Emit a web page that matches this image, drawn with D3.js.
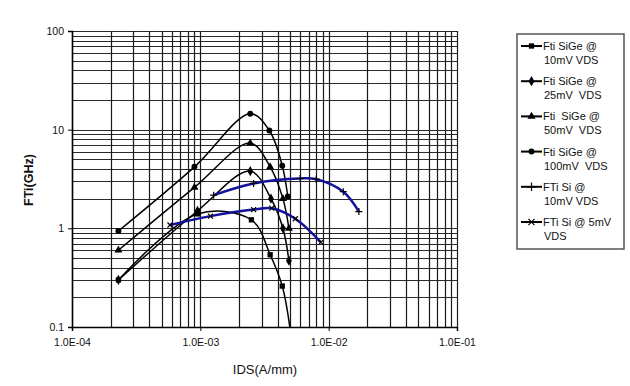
<!DOCTYPE html>
<html>
<head>
<meta charset="utf-8">
<script src="https://cdn.jsdelivr.net/npm/d3@7"></script>
<style>
  body { margin: 0; background: #fff; }
  svg text { font-family: Arial, "Liberation Sans", sans-serif; fill: #111; }
</style>
</head>
<body>
<script>
// values (IDS in A/mm, FT in GHz)
var sige10 = [[2.3e-4, 0.3], [9.5e-4, 1.4], [2.5e-3, 1.22], [3.5e-3, 0.54], [4.35e-3, 0.26], [5.1e-3, 0.08]];
var sige25 = [[2.3e-4, 0.3], [9.5e-4, 1.5], [2.45e-3, 3.8], [3.55e-3, 2.0], [4.4e-3, 1.0], [4.9e-3, 0.47]];
var sige50 = [[2.3e-4, 0.6], [9e-4, 2.6], [2.45e-3, 7.3], [3.5e-3, 4.2], [4.4e-3, 2.0], [4.9e-3, 1.0]];
var sige100 = [[2.3e-4, 0.94], [9e-4, 4.2], [2.45e-3, 14.5], [3.45e-3, 9.8], [4.35e-3, 4.3], [4.8e-3, 2.1]];
var si10 = [[1.27e-3, 2.17], [2.6e-3, 2.85], [6e-3, 3.2], [8e-3, 3.15], [1.3e-2, 2.35], [1.72e-2, 1.48]];
var si5 = [[5.8e-4, 1.08], [1.2e-3, 1.33], [2.6e-3, 1.55], [3.6e-3, 1.6], [5.5e-3, 1.25], [8.7e-3, 0.72]];

var seriesNames = [["Fti SiGe @", "10mV VDS"], ["Fti SiGe @", "25mV  VDS"], ["Fti  SiGe @", "50mV  VDS"],
                   ["Fti SiGe @", "100mV  VDS"], ["FTi Si @", "10mV VDS"], ["FTi Si @ 5mV", "VDS"]];
var xTicks = [1e-4, 1e-3, 1e-2, 1e-1];
var xTickLabels = ["1.0E-04", "1.0E-03", "1.0E-02", "1.0E-01"];
var yTicks = [0.1, 1, 10, 100];
var yTickLabels = ["0.1", "1", "10", "100"];

let svg = d3.select("body").append("svg")
            .attr("width", 630)
            .attr("height", 386);

let x = d3.scaleLog().domain([1e-4, 1e-1]).range([72, 457]);
let y = d3.scaleLog().domain([0.1, 100]).range([327, 31]);

// grid, every 1..9 of each decade
var minorX = [], minorY = [];
[1e-4, 1e-3, 1e-2].forEach(d => { for (let k = 1; k <= 9; k++) minorX.push(d * k); });
minorX.push(1e-1);
[0.1, 1, 10].forEach(d => { for (let k = 1; k <= 9; k++) minorY.push(d * k); });
minorY.push(100);

svg.append("g").selectAll("line").data(minorY).join("line")
    .attr("x1", 72).attr("x2", 457)
    .attr("y1", d => Math.round(y(d)) + 0.5).attr("y2", d => Math.round(y(d)) + 0.5)
    .attr("stroke", "#2a2a2a").attr("stroke-width", 1.2);
svg.append("g").selectAll("line").data(minorX).join("line")
    .attr("y1", 31).attr("y2", 327)
    .attr("x1", d => Math.round(x(d)) + 0.5).attr("x2", d => Math.round(x(d)) + 0.5)
    .attr("stroke", "#1a1a1a").attr("stroke-width", 1.2);

// axes
let xAxis = svg.append("g").attr("transform", "translate(0,327)")
    .call(d3.axisBottom(x).tickValues(xTicks).tickSize(4).tickPadding(8)
          .tickFormat((d, i) => xTickLabels[i]));
let yAxis = svg.append("g").attr("transform", "translate(72,0)")
    .call(d3.axisLeft(y).tickValues(yTicks).tickSize(4).tickPadding(4)
          .tickFormat((d, i) => yTickLabels[i]));
[xAxis, yAxis].forEach(a => {
    a.selectAll("text").attr("font-size", 10.5).attr("fill", "#222");
    a.select(".domain").attr("stroke", "#000").attr("stroke-width", 1.5);
});

svg.append("text").attr("x", 265).attr("y", 374).attr("text-anchor", "middle")
    .attr("font-size", 13).text("IDS(A/mm)");
svg.append("text").attr("transform", "translate(33,180) rotate(-90)")
    .attr("text-anchor", "middle").attr("font-size", 12.5).attr("font-weight", "bold")
    .text("FTi(GHz)");

// series
svg.append("clipPath").attr("id", "plot").append("rect")
    .attr("x", 72).attr("y", 31).attr("width", 385).attr("height", 296);

let line = d3.line()
    .x(d => x(d[0])).y(d => y(d[1]))
    .curve(d3.curveCatmullRom.alpha(0.5));

var series = [
    {data: sige10, color: "#000", width: 1.5, shape: "square"},
    {data: sige25, color: "#000", width: 1.5, shape: "diamond"},
    {data: sige50, color: "#000", width: 1.5, shape: "triangle"},
    {data: sige100, color: "#000", width: 1.5, shape: "circle"},
    {data: si10, color: "#12129a", width: 2.5, shape: "plus"},
    {data: si5, color: "#12129a", width: 2.5, shape: "cross"}
];

let symbolType = {
    square: d3.symbolSquare, diamond: d3.symbolDiamond, triangle: d3.symbolTriangle,
    circle: d3.symbolCircle
};

let marker = (g, shape, cx, cy, size) => {
    if (shape == "plus" || shape == "cross") {
        g.append("path")
            .attr("d", d3.symbol().type(shape == "plus" ? d3.symbolPlus : d3.symbolTimes).size(size)())
            .attr("transform", "translate(" + cx + "," + cy + ")")
            .attr("fill", "none").attr("stroke", "#000").attr("stroke-width", 1.2);
    } else {
        g.append("path")
            .attr("d", d3.symbol().type(symbolType[shape]).size(shape == "diamond" ? 30 : 28)())
            .attr("transform", "translate(" + cx + "," + cy + ")")
            .attr("fill", "#000");
    }
};

let plot = svg.append("g").attr("clip-path", "url(#plot)");
series.forEach(s => {
    plot.append("path").datum(s.data)
        .attr("d", line)
        .attr("fill", "none")
        .attr("stroke", s.color)
        .attr("stroke-width", s.width);
    s.data.forEach(d => marker(plot, s.shape, x(d[0]), y(d[1]), 18));
});

// legend
svg.append("rect").attr("x", 517).attr("y", 34).attr("width", 107).attr("height", 215)
    .attr("fill", "#fff").attr("stroke", "#555").attr("stroke-width", 1.5);
series.forEach((s, i) => {
    let ly = 46 + i * 35.2;
    let g = svg.append("g");
    g.append("line").attr("x1", 521).attr("x2", 542).attr("y1", ly).attr("y2", ly)
        .attr("stroke", "#000").attr("stroke-width", 2);
    marker(g, s.shape, 531.5, ly, 26);
    g.append("text").attr("x", 543).attr("y", ly + 4).attr("font-size", 11)
        .style("white-space", "pre").text(seriesNames[i][0]);
    g.append("text").attr("x", 544).attr("y", ly + 18).attr("font-size", 11)
        .style("white-space", "pre").text(seriesNames[i][1]);
});
</script>
</body>
</html>
